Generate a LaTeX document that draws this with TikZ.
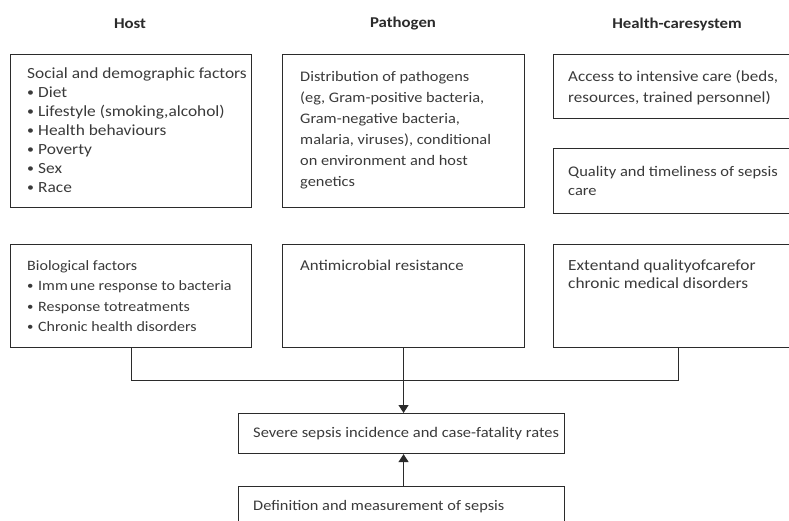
\documentclass[tikz,border=0pt]{standalone}
\usepackage{fontspec}
\setmainfont{Carlito}[FakeStretch=1.12]
\usetikzlibrary{arrows.meta,calc}
\definecolor{ink}{HTML}{2B2B2B}
\definecolor{txt}{HTML}{3A3A3A}
\newcommand{\bul}{\makebox[11pt][l]{\raisebox{1pt}{\scalebox{0.8}{\textbullet}}}}
\begin{document}
\begin{tikzpicture}[x=1pt,y=-1pt,
  box/.style={draw=ink,line width=1.1pt,rectangle,inner sep=0pt,anchor=north west},
  head/.style={font=\fontsize{15}{18}\selectfont\bfseries,text=ink,inner sep=0pt},
  body/.style={font=\fontsize{15.5}{20}\selectfont,text=txt,align=left,inner sep=0pt,anchor=north west},
  link/.style={draw=ink,line width=1.1pt},
  tip/.style={-{Triangle[width=10pt,length=8pt]}}]
\useasboundingbox (0,0) rectangle (789,521);
\clip (0,0) rectangle (789,521);

% column headings
\node[head] (tHost) at (130,24) {Host};
\node[head] (tPath) at (403,24) {Pathogen};
\node[head] (tCare) at (677,24) {Health-caresystem};

% boxes
\node[box,minimum width=241pt,minimum height=153pt] (hs) at (10,54) {};
\node[box,minimum width=241pt,minimum height=103pt] (hb) at (10,244) {};
\node[box,minimum width=242pt,minimum height=153pt] (pd) at (282,54) {};
\node[box,minimum width=242pt,minimum height=103pt] (pa) at (282,244) {};
\node[box,minimum width=250pt,minimum height=64pt] (ha) at (553,54) {};
\node[box,minimum width=250pt,minimum height=65pt] (hq) at (553,148) {};
\node[box,minimum width=250pt,minimum height=103pt] (he) at (553,244) {};
\node[box,minimum width=326pt,minimum height=40pt] (sv) at (238,413) {};
\node[box,minimum width=326pt,minimum height=70pt] (df) at (238,486) {};

% texts
\node[body,font=\fontsize{15.5}{19}\selectfont] (hsT) at ($(hs.north west)+(17,14)$)
  {Social and demographic factors\\
   \bul Diet\\ \bul Lifestyle (smoking,alcohol)\\ \bul Health behaviours\\
   \bul Poverty\\ \bul Sex\\ \bul Race};
\node[body,font=\fontsize{14.6}{21}\selectfont] (pdT) at ($(pd.north west)+(18,17)$)
  {Distribution of pathogens\\ (eg, Gram-positive bacteria,\\ Gram-negative bacteria,\\
   malaria, viruses), conditional\\ on environment and host\\ genetics};
\node[body,font=\fontsize{15.2}{21}\selectfont] (haT) at ($(ha.north west)+(15,16)$)
  {Access to intensive care (beds,\\ resources, trained personnel)};
\node[body,font=\fontsize{14.7}{19}\selectfont] (hqT) at ($(hq.north west)+(15,18)$)
  {Quality and timeliness of sepsis\\ care};
\node[body,font=\fontsize{14.3}{20.5}\selectfont] (hbT) at ($(hb.north west)+(17,16)$)
  {Biological factors\\ \bul Imm\,une response to bacteria\\
   \bul Response totreatments\\ \bul Chronic health disorders};
\node[body,font=\fontsize{15}{20}\selectfont] (paT) at ($(pa.north west)+(18,16)$) {Antimicrobial resistance};
\node[body,font=\fontsize{15.5}{18}\selectfont] (heT) at ($(he.north west)+(15,16)$)
  {Extentand qualityofcarefor\\ chronic medical disorders};
\node[body,anchor=west,font=\fontsize{14.7}{18}\selectfont] (svT) at ($(sv.west)+(15,0)$) {Severe sepsis incidence and case-fatality rates};
\node[body,anchor=west,font=\fontsize{14.6}{18}\selectfont] (dfT) at ($(df.north west)+(15,21)$) {Definition and measurement of sepsis};

% connectors
\coordinate (jL) at ($(hb.south)+(0,32)$);
\draw[link] (hb.south) -- (jL) -| (he.south);
\draw[link,tip] (pa.south) -- (pa.south |- sv.north);
\draw[link,tip] (pa.south |- df.north) -- (pa.south |- sv.south);
\end{tikzpicture}
\end{document}
